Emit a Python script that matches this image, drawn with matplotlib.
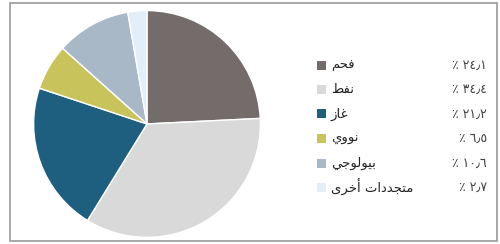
import matplotlib
matplotlib.use("Agg")
import matplotlib.pyplot as plt
from matplotlib.patches import Rectangle

# Données du graphique (ordre logique arabe)
labels = ["فحم", "نفط", "غاز", "نووي", "بيولوجي", "متجددات أخرى"]
values = [24.1, 34.4, 21.2, 6.5, 10.6, 2.7]
colors = ["#746b6b", "#d9d9d9", "#1e5f7f", "#c9c35c", "#a9b8c7", "#e2effa"]

# Formes de présentation : (isolée, finale, initiale, médiane)
forms = {
    "ا": ("\uFE8D", "\uFE8E", None, None),
    "أ": ("\uFE83", "\uFE84", None, None),
    "ب": ("\uFE8F", "\uFE90", "\uFE91", "\uFE92"),
    "ت": ("\uFE95", "\uFE96", "\uFE97", "\uFE98"),
    "ج": ("\uFE9D", "\uFE9E", "\uFE9F", "\uFEA0"),
    "ح": ("\uFEA1", "\uFEA2", "\uFEA3", "\uFEA4"),
    "خ": ("\uFEA5", "\uFEA6", "\uFEA7", "\uFEA8"),
    "د": ("\uFEA9", "\uFEAA", None, None),
    "ر": ("\uFEAD", "\uFEAE", None, None),
    "ز": ("\uFEAF", "\uFEB0", None, None),
    "ط": ("\uFEC1", "\uFEC2", "\uFEC3", "\uFEC4"),
    "غ": ("\uFECD", "\uFECE", "\uFECF", "\uFED0"),
    "ف": ("\uFED1", "\uFED2", "\uFED3", "\uFED4"),
    "ل": ("\uFEDD", "\uFEDE", "\uFEDF", "\uFEE0"),
    "م": ("\uFEE1", "\uFEE2", "\uFEE3", "\uFEE4"),
    "ن": ("\uFEE5", "\uFEE6", "\uFEE7", "\uFEE8"),
    "و": ("\uFEED", "\uFEEE", None, None),
    "ى": ("\uFEEF", "\uFEF0", None, None),
    "ي": ("\uFEF1", "\uFEF2", "\uFEF3", "\uFEF4"),
}


def shape(word):
    out = []
    for i, c in enumerate(word):
        if c not in forms:
            out.append(c)
            continue
        prev = word[i - 1] if i > 0 else None
        nxt = word[i + 1] if i + 1 < len(word) else None
        join_prev = prev in forms and forms[prev][2] is not None
        join_next = nxt in forms and forms[c][2] is not None
        iso, fin, ini, med = forms[c]
        if join_prev and join_next:
            out.append(med)
        elif join_prev:
            out.append(fin)
        elif join_next:
            out.append(ini)
        else:
            out.append(iso)
    return "".join(out[::-1])


def arabic_pct(v):
    s = "{0:.1f}".format(v).translate(str.maketrans("0123456789.", "٠١٢٣٤٥٦٧٨٩٫"))
    return "٪ " + s


fig = plt.figure(figsize=(5, 2.44), dpi=100)
fig.patch.set_facecolor("white")

# Cadre gris autour du graphique
fig.patches.append(Rectangle((0.02, 0.012), 0.974, 0.976, transform=fig.transFigure,
                             fill=False, edgecolor="#9a9a9a", linewidth=1.2))

ax = fig.add_axes([0.066, 0.025, 0.456, 0.934])
ax.pie(values, colors=colors, startangle=90, counterclock=False,
       wedgeprops=dict(edgecolor="white", linewidth=1.0))
ax.set_xlim(-1.005, 1.005)
ax.set_ylim(-1.005, 1.005)
ax.set_aspect("equal")

# Légende manuelle
y0 = 1 - 65 / 244
dy = 24.5 / 244
for i in range(len(labels)):
    y = y0 - i * dy
    fig.patches.append(Rectangle((317 / 500, y - 4.5 / 244), 9 / 500, 9 / 244,
                                 transform=fig.transFigure, facecolor=colors[i],
                                 edgecolor="none"))
    fig.text(331 / 500, y, shape(labels[i]), fontsize=9.5, va="center", ha="left",
             family="DejaVu Sans", color="#222222")
    fig.text(487 / 500, y, arabic_pct(values[i]), fontsize=9, va="center", ha="right",
             family="DejaVu Sans", color="#444444")

plt.savefig("out.png", dpi=100)
